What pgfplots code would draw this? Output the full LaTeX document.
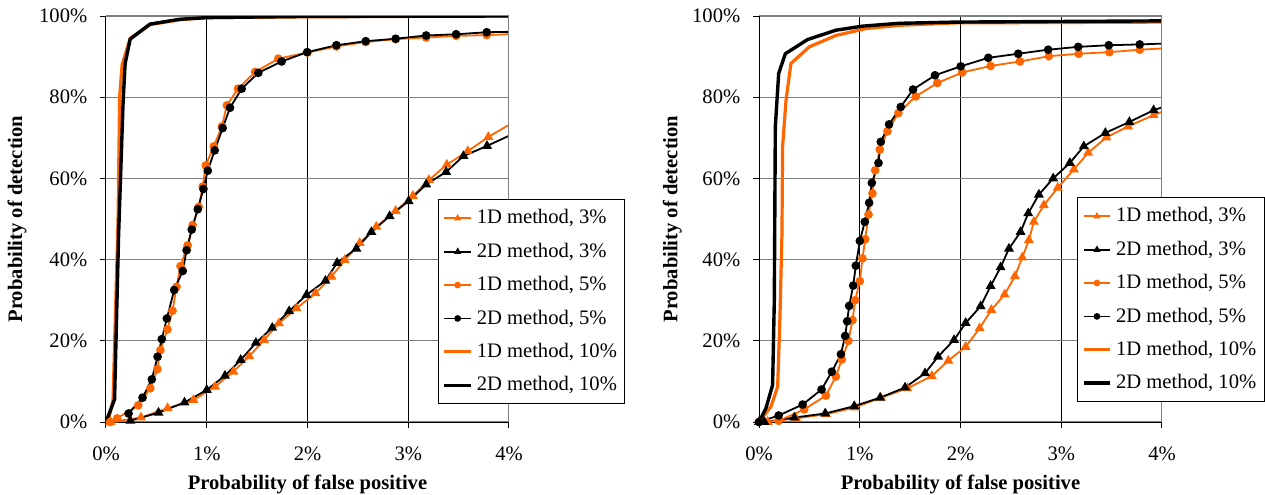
\documentclass[border=0pt]{standalone}
\usepackage{fontspec}
\setmainfont{Liberation Serif}
\usepackage{pgfplots}
\pgfplotsset{compat=1.18}
\definecolor{xlorange}{RGB}{255,102,0}
\definecolor{xlgray}{RGB}{128,128,128}
\pgfplotsset{
  legend image code/.code={\draw[mark repeat=2,mark phase=2,#1] plot coordinates {(0pt,0pt) (6.7pt,0pt) (13.4pt,0pt)};},
  o3/.style={xlorange, line width=0.9pt, mark=triangle*, mark size=2pt, mark options={solid}},
  b3/.style={black, line width=0.9pt, mark=triangle*, mark size=2pt, mark options={solid}},
  o5/.style={xlorange, line width=0.9pt, mark=*, mark size=1.7pt, mark options={solid}},
  b5/.style={black, line width=0.9pt, mark=*, mark size=1.7pt, mark options={solid}},
  o10/.style={xlorange, line width=1.6pt, mark=none},
  b10/.style={black, line width=1.7pt, mark=none},
  oline/.style={xlorange, line width=0.9pt, mark=none, forget plot},
  bline/.style={black, line width=0.9pt, mark=none, forget plot},
  rocaxis/.style={
    scale only axis, width=201.5pt, height=203pt,
    xmin=0, xmax=4, ymin=0, ymax=100,
    xtick={0,1,2,3,4}, xticklabels={0\%,1\%,2\%,3\%,4\%},
    ytick={0,20,40,60,80,100}, yticklabels={0\%,20\%,40\%,60\%,80\%,100\%},
    xticklabel style={yshift=-6pt},
    yticklabel style={xshift=-2.75pt},
    axis x line*=bottom, axis y line*=left,
    axis line style={black, line width=0.5pt},
    tick align=outside, major tick length=3pt,
    tick style={black, line width=0.5pt},
    xmajorgrids, ymajorgrids,
    x grid style={black, line width=0.5pt},
    y grid style={xlgray, line width=0.6pt},
    xlabel={\bfseries Probability of false positive},
    ylabel={\bfseries Probability of detection},
    xlabel style={at={(axis description cs:0.5,-0.155)}, anchor=center},
    legend cell align=left,
    legend style={draw=black, line width=0.5pt, fill=white, anchor=north west,
      row sep=4pt, inner xsep=2pt, inner ysep=3pt},
    legend image post style={mark size=1.2pt},
  }
}
\begin{document}
\fontsize{10.3}{12.4}\selectfont
\begin{tikzpicture}
\useasboundingbox (0,0) rectangle (632.5pt,247pt);
% ---------------- left chart ----------------
\begin{axis}[rocaxis, at={(53pt,36pt)}, anchor=south west,
  ylabel style={at={(axis description cs:-0.2208,0.5)}, anchor=center},
  legend style={at={(0.824,0.549)}}]
\addplot[o3] coordinates {(0.043,0)(0.347,1.1)(0.611,3.4)(0.868,5.4)(1.083,8.7)(1.264,12.4)(1.422,16.2)(1.568,20.2)(1.716,24.3)(1.891,28.0)(2.079,31.7)(2.238,35.8)(2.370,39.9)(2.518,44.1)(2.683,48.1)(2.875,52.0)(3.046,55.7)(3.205,59.6)(3.383,63.4)(3.591,66.7)(3.795,70.2)};
\addlegendentry{1D method, 3\%}
\addplot[oline] coordinates {(3.795,70.2)(4.0,73.2)};
\addplot[b3] coordinates {(0.241,0.3)(0.521,2.3)(0.779,4.8)(1.0,7.9)(1.181,11.4)(1.337,15.3)(1.488,19.5)(1.650,23.2)(1.818,27.3)(1.990,31.3)(2.178,34.8)(2.294,39.2)(2.485,42.7)(2.634,46.8)(2.815,50.7)(3.003,54.4)(3.178,58.5)(3.376,61.6)(3.548,65.5)(3.782,68.0)};
\addlegendentry{2D method, 3\%}
\addplot[bline] coordinates {(3.782,68.0)(4.0,70.5)};
\addplot[o5] coordinates {(0.04,0)(0.11,0.9)(0.32,4.1)(0.44,8.3)(0.51,13.0)(0.54,17.7)(0.61,22.8)(0.66,27.4)(0.70,33.3)(0.74,38.4)(0.81,43.5)(0.86,48.5)(0.92,53.0)(0.96,58.0)(0.99,63.2)(1.07,67.9)(1.15,72.8)(1.20,78.0)(1.31,82.1)(1.48,86.2)(1.71,89.5)(2.0,91.0)(2.287,92.5)(2.578,93.6)(2.875,94.3)(3.178,94.7)(3.475,95.1)(3.779,95.3)};
\addlegendentry{1D method, 5\%}
\addplot[oline] coordinates {(3.779,95.3)(4.0,95.5)};
\addplot[b5] coordinates {(0.224,2.1)(0.363,6.0)(0.455,10.5)(0.512,16.1)(0.554,20.4)(0.604,25.5)(0.677,32.5)(0.762,37.2)(0.80,42.3)(0.851,47.4)(0.911,52.4)(0.967,57.4)(1.010,61.9)(1.079,66.9)(1.158,72.4)(1.231,77.4)(1.347,82.1)(1.512,86.0)(1.743,88.8)(1.997,91.1)(2.287,92.8)(2.578,93.8)(2.875,94.4)(3.178,95.2)(3.475,95.5)(3.779,96.0)};
\addlegendentry{2D method, 5\%}
\addplot[bline] coordinates {(3.779,96.0)(4.0,96.1)};
\addplot[o10] coordinates {(0.02,0)(0.07,5.4)(0.12,50)(0.135,80)(0.16,88)(0.24,94.5)(0.44,97.9)(0.74,99.1)(1.0,99.6)(2.0,99.8)(4.0,100)};
\addlegendentry{1D method, 10\%}
\addplot[b10] coordinates {(0,0)(0.085,5.6)(0.125,46)(0.17,79)(0.19,88.3)(0.24,94.3)(0.436,98.0)(0.733,99.2)(1.0,99.6)(2.0,99.9)(4.0,100)};
\addlegendentry{2D method, 10\%}
\draw[xlgray, line width=0.6pt] (rel axis cs:1,0) -- (rel axis cs:1,1);
\end{axis}
% ---------------- right chart ----------------
\begin{axis}[rocaxis, at={(379.5pt,36pt)}, anchor=south west,
  ylabel style={at={(axis description cs:-0.2153,0.5)}, anchor=center},
  legend style={at={(0.79,0.554)}}]
\addplot[o3] coordinates {(0.086,0)(0.367,0.9)(0.664,1.9)(0.955,3.6)(1.209,6.0)(1.473,8.3)(1.714,11.3)(1.879,15.1)(2.051,18.5)(2.190,23.1)(2.306,27.6)(2.438,31.4)(2.540,35.9)(2.613,40.5)(2.679,44.8)(2.728,49.3)(2.827,53.4)(2.966,57.7)(3.125,62.2)(3.267,66.3)(3.448,70.1)(3.663,72.8)(3.917,75.6)};
\addlegendentry{1D method, 3\%}
\addplot[oline] coordinates {(3.917,75.6)(4.0,76.4)};
\addplot[b3] coordinates {(0,0)(0.053,0)(0.350,1.1)(0.657,2.1)(0.945,3.9)(1.202,6.0)(1.450,8.5)(1.648,12.0)(1.777,16.1)(1.936,20.2)(2.051,24.4)(2.200,28.5)(2.299,33.5)(2.398,38.1)(2.481,42.7)(2.596,46.8)(2.672,51.4)(2.778,56.0)(2.920,60.0)(3.085,63.8)(3.224,67.9)(3.438,71.2)(3.676,73.9)(3.917,76.8)};
\addlegendentry{2D method, 3\%}
\addplot[bline] coordinates {(3.917,76.8)(4.0,77.5)};
\addplot[o5] coordinates {(0,0)(0.195,0.3)(0.449,3.1)(0.664,6.5)(0.763,11.2)(0.822,15.4)(0.888,20.0)(0.928,25.1)(0.955,30.0)(1.001,34.7)(1.027,40.3)(1.054,45.0)(1.087,51.1)(1.126,56.3)(1.153,62.0)(1.199,67.1)(1.275,71.6)(1.384,76.1)(1.556,80.2)(1.770,83.5)(2.018,86.1)(2.299,87.7)(2.590,88.8)(2.877,90.1)(3.174,90.7)(3.478,91.1)(3.779,91.7)};
\addlegendentry{1D method, 5\%}
\addplot[oline] coordinates {(3.779,91.7)(4.0,92.0)};
\addplot[b5] coordinates {(0,0)(0.195,1.6)(0.433,4.3)(0.621,8.0)(0.723,12.4)(0.813,16.7)(0.855,21.2)(0.875,24.8)(0.895,28.6)(0.935,33.6)(0.961,38.5)(1.001,44.6)(1.050,49.3)(1.093,54.0)(1.120,58.9)(1.186,63.8)(1.209,69.0)(1.291,73.3)(1.407,77.6)(1.529,81.9)(1.747,85.4)(2.002,87.6)(2.276,89.7)(2.573,90.7)(2.870,91.7)(3.168,92.4)(3.472,92.8)(3.779,93.0)};
\addlegendentry{2D method, 5\%}
\addplot[bline] coordinates {(3.779,93.0)(4.0,93.2)};
\addplot[o10] coordinates {(0,0)(0.119,3.8)(0.185,8.7)(0.208,25.9)(0.228,46.4)(0.234,67.8)(0.268,79.2)(0.317,88.3)(0.499,92.4)(0.763,95.2)(1.06,96.9)(1.39,97.7)(1.95,98.3)(4.0,98.5)};
\addlegendentry{1D method, 10\%}
\addplot[b10] coordinates {(0,0)(0.069,3.4)(0.135,9.1)(0.152,30.0)(0.162,72.7)(0.195,85.8)(0.261,90.7)(0.482,94.2)(0.763,96.5)(1.027,97.5)(1.39,98.2)(1.95,98.5)(4.0,98.8)};
\addlegendentry{2D method, 10\%}
\draw[xlgray, line width=0.6pt] (rel axis cs:1,0) -- (rel axis cs:1,1);
\end{axis}
\end{tikzpicture}
\end{document}
